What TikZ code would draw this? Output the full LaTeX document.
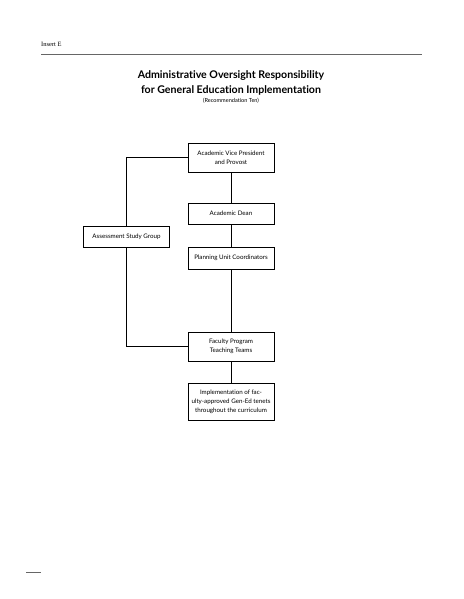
\documentclass[tikz,border=0pt]{standalone}
\usepackage{fontspec}
\setmainfont{Liberation Serif}
\newfontfamily\boxfont[Ligatures=NoCommon]{Lato}
\usepackage{tikz}
\tikzset{
    every node/.style={inner sep=1pt}
}
\tikzset{
    box/.style={draw, line width=.8pt, fill=white, minimum width=86pt,
    	minimum height=21pt, align=center,
    	font=\boxfont\fontsize{6.2}{9}\selectfont}
}
\tikzset{
    every edge/.append style={line width=.8pt}
}

\begin{document}
\begin{tikzpicture}[x=1pt, y=-1pt]
  \useasboundingbox (0,0) rectangle (463,599);
  \node (ins) [anchor=west, font=\fontsize{6.5}{8}\selectfont] at (40,44) {Insert E};
  \draw [gray!80!black, line width=.9pt] (41,54) -- (422,54);
  \node (t1) [font=\boxfont\bfseries\fontsize{10.6}{15}\selectfont, align=center] at (231,83)
    {Administrative Oversight Responsibility\\for General Education Implementation};
  \node (t2) [font=\boxfont\fontsize{5.6}{7}\selectfont] at (231,101) {(Recommendation Ten)};
  \node [box, minimum height=29pt] (a) at (231,157.5) {Academic Vice President\\and Provost};
  \node [box] (b) at (231,213.5) {Academic Dean};
  \node [box] (s) at (126.5,236.5) {Assessment Study Group};
  \node [box, minimum height=22pt] (c) at (231,258) {Planning Unit Coordinators};
  \node [box, minimum height=29pt] (d) at (231,346.5) {Faculty Program\\Teaching Teams};
  \node [box, minimum height=37pt] (e) at (231,401.5) {Implementation of fac-\\ulty-approved Gen-Ed tenets\\throughout the curriculum};
  \draw (a) edge (b); \draw (b) edge (c);
  \draw (c) edge (d); \draw (d) edge (e);
  \draw [line width=.8pt] (a.west) -| (s.north);
  \draw [line width=.8pt] (s.south) |- (d.west);
  \draw [gray!80!black, line width=.9pt] (26,572) -- (41,572);
\end{tikzpicture}
\end{document}
